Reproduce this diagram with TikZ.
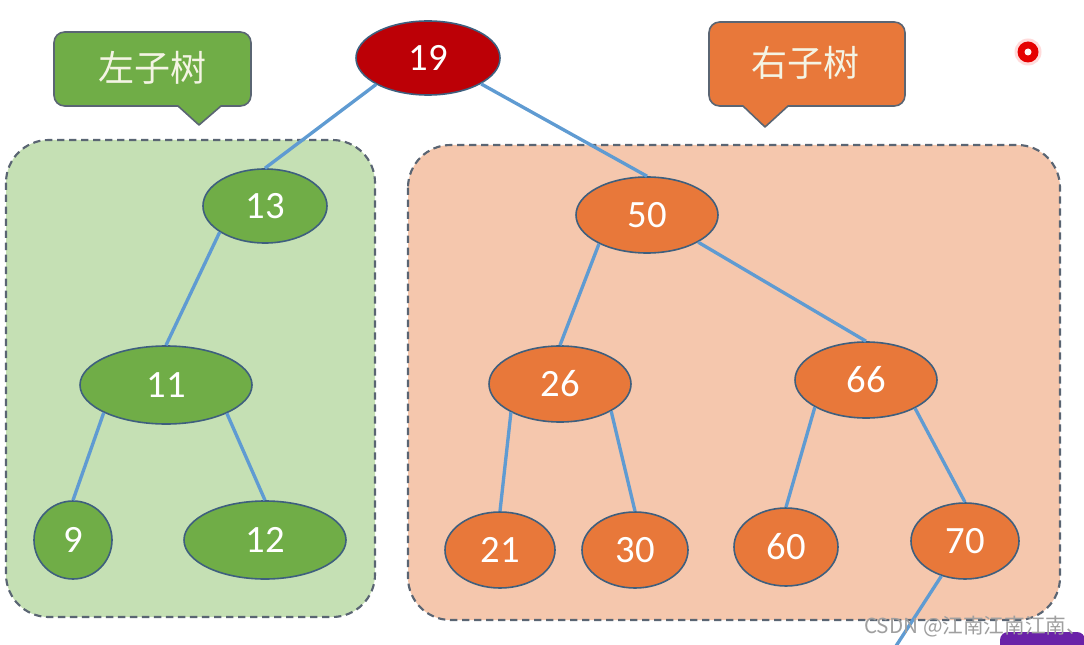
\documentclass[tikz,border=0pt]{standalone}
\usepackage{fontspec}
\setmainfont{Carlito}
\newfontfamily\cjk{Noto Sans CJK SC}
\usetikzlibrary{shapes.geometric}
\definecolor{lgreen}{HTML}{C5E0B4}
\definecolor{peach}{HTML}{F5C7AD}
\definecolor{ngreen}{HTML}{70AD47}
\definecolor{norange}{HTML}{E8783A}
\definecolor{nred}{HTML}{BC0006}
\definecolor{eblue}{HTML}{5F9BD2}
\definecolor{nborder}{HTML}{3E5F7E}
\definecolor{dgray}{HTML}{5A6573}
\definecolor{ctext}{HTML}{F4F4E4}
\definecolor{purp}{HTML}{6A22A8}
\begin{document}
\begin{tikzpicture}[x=0.75pt,y=-0.75pt,
  region/.style={draw=dgray, line width=1.6pt, dash pattern=on 5.5pt off 3.5pt, rounded corners=32pt},
  tn/.style={ellipse, draw=nborder, line width=1.2pt, inner sep=0pt, text=white,
    font=\fontsize{29}{30}\selectfont},
  gn/.style={tn, fill=ngreen},
  on/.style={tn, fill=norange},
  edgeline/.style={draw=eblue, line width=2.5pt},
  callout/.style={draw=dgray, line width=1.2pt, line join=round},
  ctxt/.style={text=ctext, font=\cjk\fontsize{27}{30}\selectfont, inner sep=0pt}
]
\useasboundingbox (0,0) rectangle (1084,645);
\fill[white] (0,0) rectangle (1084,645);

% regions
\draw[region, fill=lgreen] (6,140) rectangle (375,617);
\draw[region, fill=peach] (408,145) rectangle (1060,620);

% callouts
\draw[callout, fill=ngreen] (178,106) [rounded corners=8pt] -- (54,106) -- (54,32) -- (251,32) -- (251,106) [sharp corners] -- (221,106) -- (199,125) -- cycle;
\node[ctxt] (lt) at (152,68) {左子树};
\draw[callout, fill=norange] (743,106) [rounded corners=8pt] -- (709,106) -- (709,22) -- (905,22) -- (905,106) [sharp corners] -- (788,106) -- (765,127) -- cycle;
\node[ctxt] (rt) at (805,63) {右子树};

% red dot
\fill[red!40!white, opacity=0.35] (1028,52) circle (13.5);
\fill[red!90!black] (1028,52) circle (10.5);
\fill[white!85!pink] (1028,52) circle (3.5);

% nodes
\node[tn, fill=nred, minimum width=108pt, minimum height=55.5pt] (n19) at (428,58) {19};
\node[gn, minimum width=93pt, minimum height=55.5pt] (n13) at (265,206) {13};
\node[gn, minimum width=129pt, minimum height=58.5pt] (n11) at (166,385) {11};
\node[gn, minimum width=58.5pt, minimum height=58.5pt] (n9) at (73,540) {9};
\node[gn, minimum width=121.5pt, minimum height=58.5pt] (n12) at (265,540) {12};
\node[on, minimum width=106.5pt, minimum height=57pt] (n50) at (647,215) {50};
\node[on, minimum width=106.5pt, minimum height=57pt] (n26) at (560,384) {26};
\node[on, minimum width=106.5pt, minimum height=57pt] (n66) at (866,380) {66};
\node[on, minimum width=82.5pt, minimum height=57pt] (n21) at (500,550) {21};
\node[on, minimum width=79.5pt, minimum height=57pt] (n30) at (635,550) {30};
\node[on, minimum width=78pt, minimum height=58.5pt] (n60) at (786,547) {60};
\node[on, minimum width=81pt, minimum height=57pt] (n70) at (965,541) {70};
\coordinate (tail) at (896,646);

% edges
\draw[edgeline] (n19.207) -- (n13.north);
\draw[edgeline] (n19.334) -- (n50.north);
\draw[edgeline] (n13.210) -- (n11.north);
\draw[edgeline] (n11.204) -- (n9.north);
\draw[edgeline] (n11.335) -- (n12.north);
\draw[edgeline] (n50.211) -- (n26.north);
\draw[edgeline] (n50.332) -- (n66.north);
\draw[edgeline] (n26.210) -- (n21.north);
\draw[edgeline] (n26.332) -- (n30.north);
\draw[edgeline] (n66.208) -- (n60.north);
\draw[edgeline] (n66.330) -- (n70.north);
\draw[edgeline] (n70.236) -- (tail);

% bottom-right purple shape and watermark
\fill[purp] (1000,646) -- (1000,640) [rounded corners=6pt] -- (1000,632) -- (1085,632) [sharp corners] -- (1085,646) -- cycle;
\node[text=gray!75, font=\cjk\fontsize{15.5}{16}\selectfont, anchor=west, inner sep=0pt] (wm) at (864,627) {CSDN @江南江南江南、};
\end{tikzpicture}
\end{document}
